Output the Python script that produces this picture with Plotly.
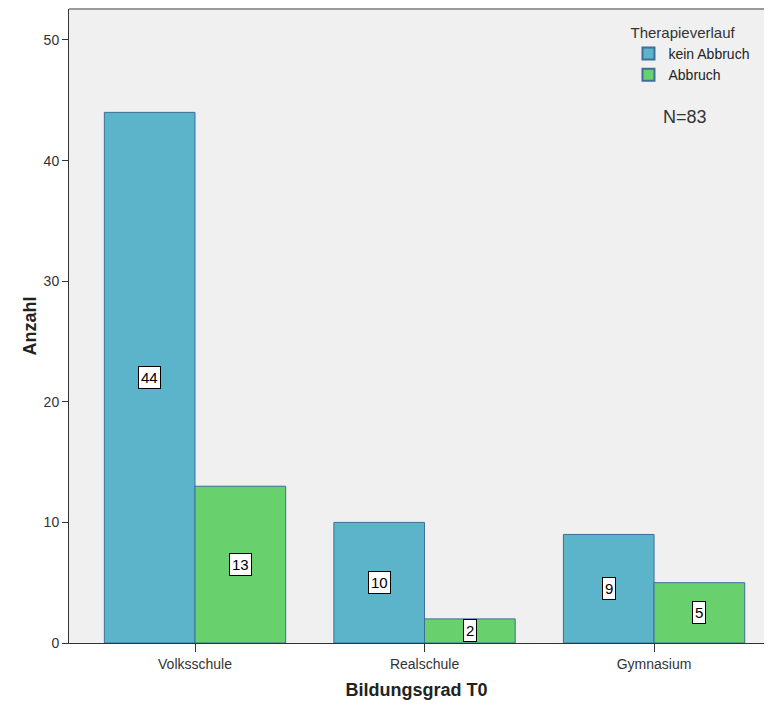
import plotly.graph_objects as go

categories = ["Volksschule", "Realschule", "Gymnasium"]
kein_abbruch = [44, 10, 9]
abbruch = [13, 2, 5]
series_names = ["kein Abbruch", "Abbruch"]
colors = ["#5BB4C9", "#69D06E"]
line_colors = ["#3E6E9A", "#3E6E9A"]

fig = go.Figure()
for name, vals, col, lc in zip(series_names, [kein_abbruch, abbruch], colors, line_colors):
    fig.add_trace(go.Bar(
        x=categories, y=vals, name=name,
        marker=dict(color=col, line=dict(color=lc, width=1)),
        offsetgroup=name,
    ))

annotations = []
n_series = 2
group_w = 0.79
bw = group_w / n_series
for si, vals in enumerate([kein_abbruch, abbruch]):
    for ci, v in enumerate(vals):
        xpos = ci - group_w / 2 + bw * (si + 0.5)
        annotations.append(dict(
            x=xpos, y=v / 2, xref="x", yref="y", text=str(v), showarrow=False,
            font=dict(family="Liberation Sans, Arial", size=15, color="black"),
            bgcolor="white", bordercolor="black", borderwidth=1, borderpad=2,
        ))

annotations.append(dict(
    x=0.887, y=0.830, xref="paper", yref="paper", text="N=83", showarrow=False,
    font=dict(family="Liberation Sans, Arial", size=18, color="#333333"),
    xanchor="center", yanchor="middle",
))

fig.update_layout(
    width=756, height=697,
    paper_bgcolor="white", plot_bgcolor="#F0F0F0",
    margin=dict(l=61, r=0, t=1, b=62),
    barmode="group", bargap=0.21, bargroupgap=0,
    font=dict(family="Liberation Sans, Arial", size=14, color="#333333"),
    annotations=annotations,
    shapes=[dict(type="line", xref="paper", yref="paper", x0=0, x1=1, y0=1, y1=1,
                 line=dict(color="#9A9A9A", width=2))],
    legend=dict(
        title=dict(text="Therapieverlauf", font=dict(size=15, color="#333333"), side="top"),
        x=0.805, y=0.985, xanchor="left", yanchor="top",
        bgcolor="rgba(0,0,0,0)", font=dict(size=14, color="#222222"),
        itemsizing="constant", tracegroupgap=0, itemwidth=30,
    ),
    xaxis=dict(
        range=[-0.549, 2.479], showline=True, linecolor="#333333", linewidth=1,
        ticks="outside", ticklen=8, tickcolor="#333333",
        tickfont=dict(size=14, color="#333333"),
        title=dict(text="<b>Bildungsgrad T0</b>", font=dict(size=18, color="#222222"), standoff=12),
        showgrid=False,
    ),
    yaxis=dict(
        range=[0, 52.57], showline=True, linecolor="#333333", linewidth=1,
        ticks="outside", ticklen=6, tickcolor="#333333", dtick=10,
        tickfont=dict(size=14, color="#333333"),
        title=dict(text="<b>Anzahl</b>", font=dict(size=18, color="#222222"), standoff=2),
        showgrid=False, zeroline=False,
    ),
)

fig.write_html("out.html")
